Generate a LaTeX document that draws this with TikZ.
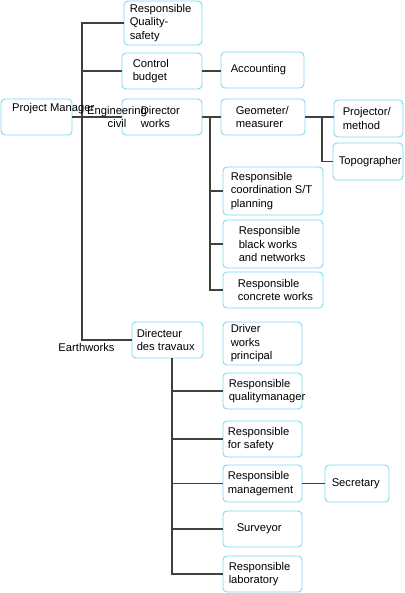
\documentclass[tikz,border=0pt]{standalone}
\usepackage{fontspec}
\setmainfont{Liberation Sans}
\definecolor{bcol}{HTML}{7FD9F2}
\definecolor{lcol}{HTML}{404040}
\begin{document}
\begin{tikzpicture}[x=1pt,y=-1pt,
  box/.style={draw=bcol, line width=0.9pt, rounded corners=4pt, inner sep=0pt, fill=white},
  txt/.style={font=\fontsize{11.2}{13.5}\selectfont, align=left, inner sep=0pt, anchor=west, text=black},
  conn/.style={draw=lcol, line width=1.2pt}]
\useasboundingbox (0,0) rectangle (404,593);
% connectors first (drawn under boxes)
\coordinate (t1) at (82,340);
\coordinate (t2) at (210,117);
\coordinate (t3) at (322,117);
\coordinate (t4) at (172,358);
% boxes
\node[box, minimum width=78pt, minimum height=44pt, label={[txt,xshift=6pt]west:{Responsible\\Quality-\\safety}}] (q) at (163,23) {};
\node[box, minimum width=80pt, minimum height=36pt, label={[txt,xshift=11pt]west:{Control\\budget}}] (cb) at (162,71) {};
\node[box, minimum width=80pt, minimum height=36pt, label={[txt,xshift=19pt]west:{Director\\works}}] (dw) at (162,117) {};
\node[box, minimum width=83pt, minimum height=36pt, label={[txt,xshift=10pt]west:{Accounting}}] (acc) at (262.5,70) {};
\node[box, minimum width=84pt, minimum height=36pt, label={[txt,xshift=15pt]west:{Geometer/\\measurer}}] (geo) at (263,117) {};
\node[box, minimum width=69pt, minimum height=37pt, label={[txt,xshift=9pt]west:{Projector/\\method}}] (proj) at (368.5,118.5) {};
\node[box, minimum width=70pt, minimum height=37pt, label={[txt,xshift=6pt]west:{Topographer}}] (topo) at (368,161.5) {};
\node[box, minimum width=100pt, minimum height=48pt, label={[txt,xshift=8pt]west:{Responsible\\coordination S/T\\planning}}] (coord) at (273,191) {};
\node[box, minimum width=100pt, minimum height=48pt, label={[txt,xshift=16pt]west:{Responsible\\black works\\and networks}}] (bw) at (273,244) {};
\node[box, minimum width=100pt, minimum height=36pt, label={[txt,xshift=15pt]west:{Responsible\\concrete works}}] (cw) at (273,290) {};
\node[box, minimum width=71pt, minimum height=36pt] (pm) at (36.5,117) {};
\node[box, minimum width=71pt, minimum height=36pt, label={[txt,xshift=5pt]west:{Directeur\\des travaux}}] (dt) at (167.5,340) {};
\node[box, minimum width=79pt, minimum height=43pt, label={[txt,xshift=8pt]west:{Driver\\works\\principal}}] (dr) at (262.5,343.5) {};
\node[box, minimum width=79pt, minimum height=36pt, label={[txt,xshift=6pt]west:{Responsible\\qualitymanager}}] (qm) at (262.5,391) {};
\node[box, minimum width=79pt, minimum height=36pt, label={[txt,xshift=5pt]west:{Responsible\\for safety}}] (sf) at (262.5,439) {};
\node[box, minimum width=79pt, minimum height=37pt, label={[txt,xshift=5pt]west:{Responsible\\management}}] (mg) at (262.5,483.5) {};
\node[box, minimum width=64pt, minimum height=37pt, label={[txt,xshift=7pt]west:{Secretary}}] (sec) at (357,483.5) {};
\node[box, minimum width=79pt, minimum height=36pt, label={[txt,xshift=14pt]west:{Surveyor}}] (sv) at (262.5,529) {};
\node[box, minimum width=79pt, minimum height=36pt, label={[txt,xshift=6pt]west:{Responsible\\laboratory}}] (lab) at (262.5,574) {};
% connectors
\draw[conn] (q.west) -| (t1) -- (dt.west);
\draw[conn] (cb.west) -- (cb.west -| t1);
\draw[conn] (pm.east) -- (dw.west);
\draw[conn] (cb.east) -- (cb.east -| acc.west);
\draw[conn] (dw.east) -- (geo.west);
\draw[conn] (t2) |- (coord.west);
\draw[conn] (t2) |- (bw.west);
\draw[conn] (t2) |- (cw.west);
\draw[conn] (geo.east) -- (geo.east -| proj.west);
\draw[conn] (t3) |- (topo.west);
\draw[conn] (t4) |- (qm.west);
\draw[conn] (t4) |- (sf.west);
\draw[conn] (t4) |- (mg.west);
\draw[conn] (t4) |- (sv.west);
\draw[conn] (t4) |- (lab.west);
\draw[conn] (mg.east) -- (sec.west);
% free texts
\node[txt] (pmt) at (12,109) {Project Manager};
\node[txt, anchor=center, align=center] (ec) at (117,117) {Engineering\\civil};
\node[txt, anchor=center] (ew) at (86.5,347) {Earthworks};
\end{tikzpicture}
\end{document}
